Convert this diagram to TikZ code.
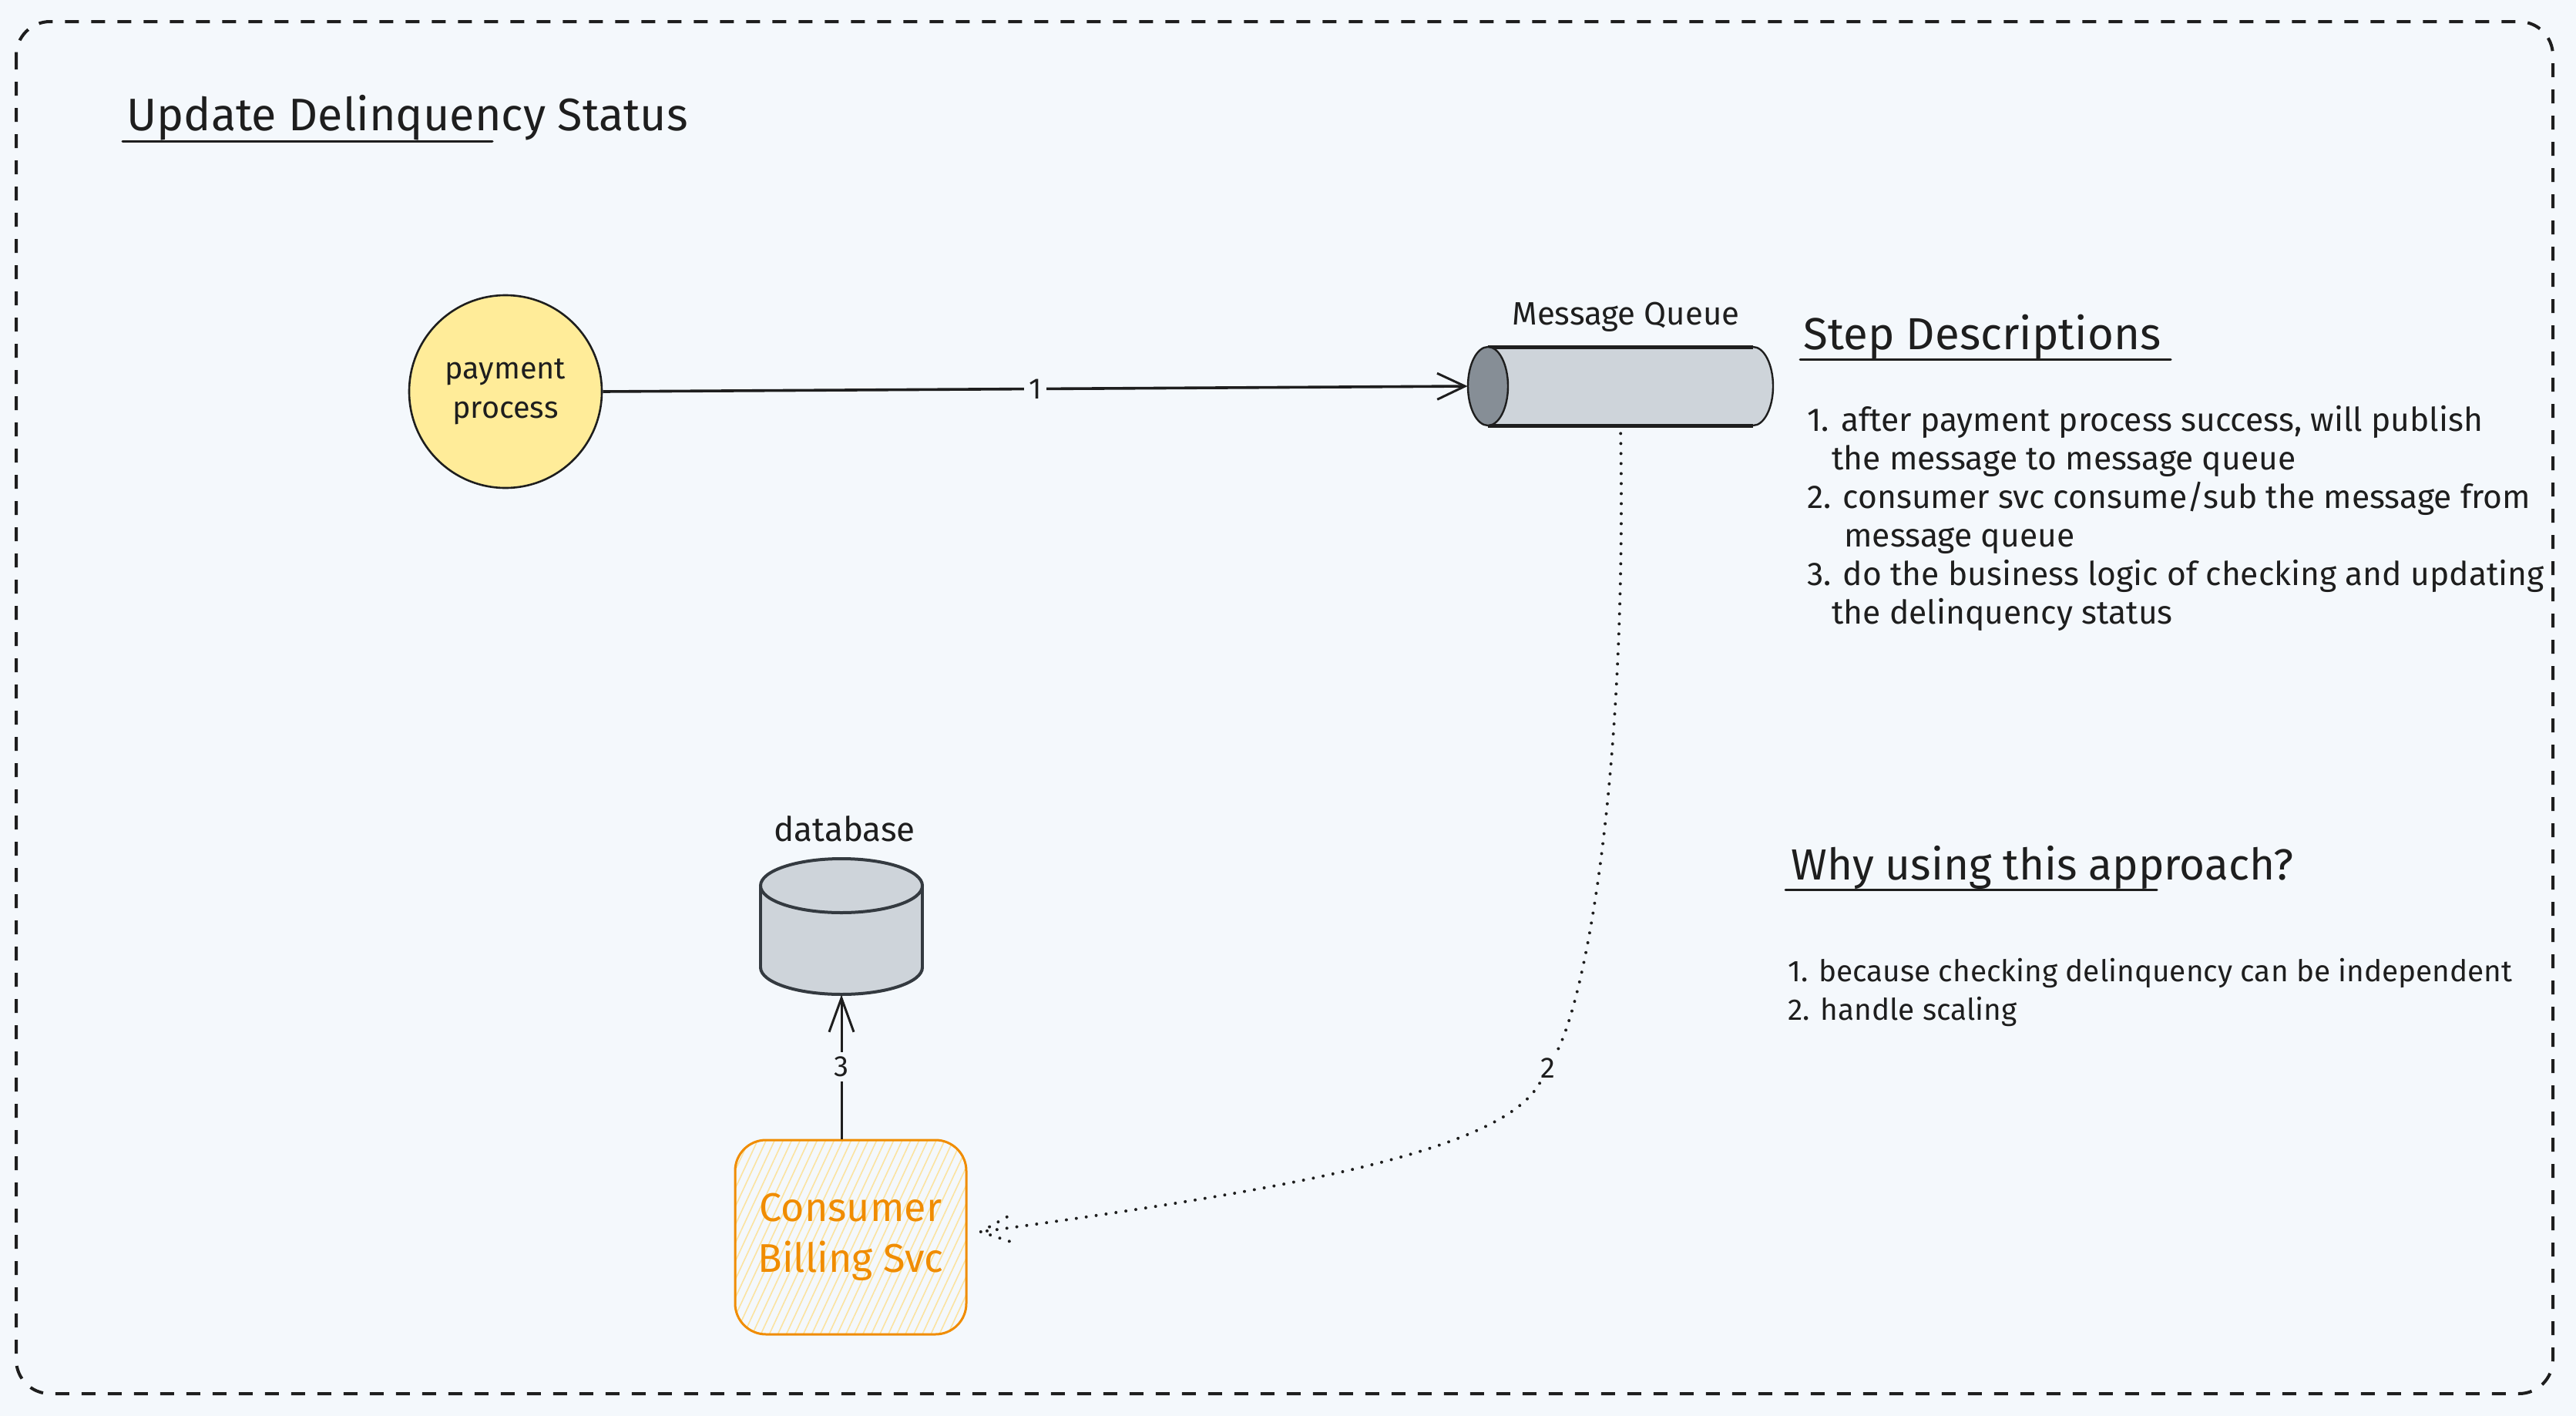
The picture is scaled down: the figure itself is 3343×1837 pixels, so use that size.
\documentclass[tikz,border=0pt]{standalone}
\usepackage{fontspec}
\setmainfont{Fira Sans}
\usetikzlibrary{arrows.meta,patterns.meta,calc}
\definecolor{bg}{HTML}{F4F8FC}
\definecolor{ink}{HTML}{1E1E1E}
\definecolor{yel}{HTML}{FFEC99}
\definecolor{gbody}{HTML}{CED4DA}
\definecolor{gend}{HTML}{868E96}
\definecolor{dbline}{HTML}{343A40}
\definecolor{orng}{HTML}{F08C00}
\definecolor{hatch}{HTML}{FBE3A0}
\begin{document}
\begin{tikzpicture}[x=0.5pt,y=-0.5pt,
  frame/.style={draw=ink,line width=2pt,dash pattern=on 9pt off 8pt,rounded corners=22pt},
  txt/.style={text=ink,inner sep=0pt},
  small/.style={txt,font=\fontsize{19}{25}\selectfont},
  head/.style={txt,font=\fontsize{28}{34}\selectfont},
  uline/.style={draw=ink,line width=1.5pt,line cap=round},
  lab/.style={small,fill=bg,inner sep=3pt},
  link1/.style={draw=ink,line width=1.8pt,-{Straight Barb[length=18pt,width=17pt,line width=1.5pt]}},
  link3/.style={draw=ink,line width=1.5pt,-{Straight Barb[length=22pt,width=16pt,line width=1.5pt]}},
  dots/.style={draw=ink,line width=2pt,line cap=round,dash pattern=on 0pt off 6.5pt},
  ]
\useasboundingbox (0,0) rectangle (3343,1837);
\fill[bg] (0,0) rectangle (3343,1837);
\draw[frame] (21,28) rectangle (3313,1808);

% title
\node[head,anchor=west,font=\fontsize{29.6}{34}\selectfont] (title) at (164,153) {Update Delinquency Status};
\draw[uline] (159,183) -- (639,183);

% payment process
\node[circle,fill=yel,draw=ink,line width=1.3pt,minimum size=125pt,inner sep=0pt,align=center,text=ink,font=\fontsize{19.8}{25.5}\selectfont] (pay) at (656,508) {payment\\process};

% message queue
\node[minimum width=198pt,minimum height=51pt,inner sep=0pt] (mq) at (2103,501) {};
\filldraw[fill=gbody,draw=ink,line width=1.2pt] (2275,501) ellipse [x radius=26, y radius=51];
\fill[gbody] (1931,450) rectangle (2275,552);
\draw[ink,line width=2.5pt] (1931,450) -- (2275,450) (1931,552) -- (2275,552);
\filldraw[fill=gend,draw=ink,line width=1.2pt] (1931,501) ellipse [x radius=26, y radius=51];
\node[small,font=\fontsize{21}{25}\selectfont] (mqlab) at (2110,411) {Message Queue};

% database
\node[minimum width=105pt,minimum height=88pt,inner sep=0pt] (db) at (1092,1202) {};
\filldraw[fill=gbody,draw=dbline,line width=2pt] (1092,1255) ellipse [x radius=105, y radius=35];
\fill[gbody] (987,1149) rectangle (1197,1255);
\draw[dbline,line width=2pt] (987,1149) -- (987,1255) (1197,1149) -- (1197,1255);
\filldraw[fill=gbody,draw=dbline,line width=2pt] (1092,1149) ellipse [x radius=105, y radius=35];
\node[small,font=\fontsize{22}{25}\selectfont] (dblab) at (1096,1075) {database};

% consumer billing svc
\node[draw=orng,line width=1.5pt,rounded corners=20pt,
  pattern={Lines[angle=65,distance=5pt,line width=0.8pt]},pattern color=hatch,
  minimum width=150pt,minimum height=126pt,align=center,text=orng,
  font=\fontsize{26}{33}\selectfont] (cb) at (1104,1605) {Consumer\\Billing Svc};

% connectors
\draw[link1] (pay.east) -- node[lab]{1} (mq.west);
\draw[link3] (cb.north -| db.south) -- node[lab]{3} (db.south);
\coordinate (tip2) at ($(cb.east)+(18,-7)$);
\node[lab] (l2) at (2009,1386) {2};
\draw[dots,shorten <=5pt] (mq.south) .. controls (2111,1000) and (2060,1290) .. (l2);
\draw[dots] (l2) .. controls (1950,1490) and (1700,1540) .. (tip2);
\draw[dots] (tip2) -- ++(37,-21) (tip2) -- ++(42,14);

% step descriptions
\node[head,anchor=west,font=\fontsize{29.1}{34}\selectfont] (stephead) at (2340,437) {Step Descriptions};
\draw[uline] (2336,466) -- (2817,466);
\node[small,anchor=north west,align=left,font=\fontsize{21.3}{25}\selectfont] (steps) at (2345,526) {1. after payment process success, will publish\\\hspace*{16pt}the message to message queue\\2. consumer svc consume/sub the message from\\\hspace*{24pt}message queue\\3. do the business logic of checking and updating\\\hspace*{16pt}the delinquency status};

% why
\node[head,anchor=west,font=\fontsize{28.3}{34}\selectfont] (whyhead) at (2324,1125) {Why using this approach?};
\draw[uline] (2317,1154) -- (2799,1154);
\node[small,anchor=north west,align=left,font=\fontsize{19.4}{25}\selectfont] (why) at (2320,1243) {1. because checking delinquency can be independent\\2. handle scaling};
\end{tikzpicture}
\end{document}
